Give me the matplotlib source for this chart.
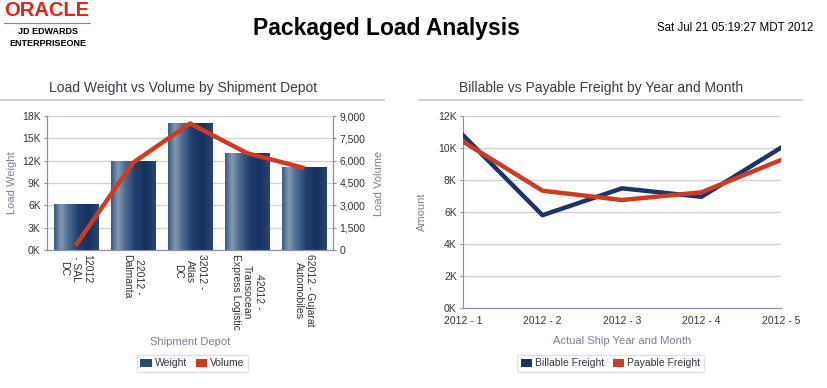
import numpy as np
import matplotlib
matplotlib.use("Agg")
import matplotlib.pyplot as plt
from matplotlib.colors import LinearSegmentedColormap
from matplotlib.patches import Patch
from matplotlib.lines import Line2D

plt.rcParams['font.family'] = ['Liberation Sans', 'DejaVu Sans']

# data
depots = ["12012\n- SAL\nDC", "22012 -\nDalmanta", "32012 -\nAtlas\nDC",
          "42012 -\nTransocean\nExpress Logistic", "62012 - Gujarat\nAutomobiles"]
weight = [6100, 11850, 17050, 13000, 11050]
volume = [300, 5850, 8500, 6500, 5500]

months = ["2012 - 1", "2012 - 2", "2012 - 3", "2012 - 4", "2012 - 5"]
billable = [10800, 5800, 7480, 6950, 10020]
payable = [10400, 7330, 6750, 7230, 9250]

W, H = 827, 388
fig = plt.figure(figsize=(W / 100, H / 100), dpi=100)

def px_axes(x0, y0, x1, y1):
    return fig.add_axes([x0 / W, 1 - y1 / H, (x1 - x0) / W, (y1 - y0) / H])

navy = "#1d3466"
red = "#cf3a22"
spine_c = "#8c8cae"
grid_c = "#cfcfe0"
lab_c = "#7d7d9c"
tick_c = "#333333"

# header
fig.text(4 / W, 1 - 11 / H, "ORACLE", color="#e2231a", fontsize=14.5, fontweight="bold",
         va="center", ha="left")
fig.add_artist(Line2D([4 / W, 90 / W], [1 - 23 / H, 1 - 23 / H], color="#888888", lw=0.8))
fig.text(48 / W, 1 - 32 / H, "JD EDWARDS", fontsize=6.5, fontweight="bold", ha="center", va="center")
fig.text(48 / W, 1 - 43 / H, "ENTERPRISEONE", fontsize=6.5, fontweight="bold", ha="center", va="center")
fig.text(386 / W, 1 - 28 / H, "Packaged Load Analysis", fontsize=16.5, fontweight="bold",
         ha="center", va="center")
fig.text(813 / W, 1 - 28 / H, "Sat Jul 21 05:19:27 MDT 2012", fontsize=8.3, ha="right", va="center")

fig.text(183 / W, 1 - 88 / H, "Load Weight vs Volume by Shipment Depot", fontsize=10,
         color="#3a3a4a", ha="center", va="center")
fig.text(601 / W, 1 - 88 / H, "Billable vs Payable Freight by Year and Month", fontsize=10,
         color="#3a3a4a", ha="center", va="center")
fig.add_artist(Line2D([0, 384 / W], [1 - 99.5 / H] * 2, color="#c8c8c8", lw=1.2))
fig.add_artist(Line2D([419 / W, 802 / W], [1 - 99.5 / H] * 2, color="#c8c8c8", lw=1.2))

# left chart
ax = px_axes(47, 116, 333, 250)
x = np.arange(len(depots))
bars = ax.bar(x, weight, width=0.77, color="none", zorder=2)
cmap = LinearSegmentedColormap.from_list("barg", [
    (0.0, "#3b5b82"), (0.15, "#8399b0"), (0.32, "#4d6b8f"),
    (0.55, "#1e3d6d"), (0.78, "#16315f"), (1.0, "#26466f")])
grad = np.linspace(0, 1, 64).reshape(1, -1)
for b in bars:
    ax.imshow(grad, cmap=cmap, aspect="auto", zorder=2,
              extent=[b.get_x(), b.get_x() + b.get_width(), 0, b.get_height()])
ax.set_xlim(-0.5, len(depots) - 0.5)
ax.set_ylim(0, 18000)
ax.set_yticks(np.arange(0, 18001, 3000))
ax.set_yticklabels([f"{v // 1000}K" for v in range(0, 18001, 3000)])
ax.yaxis.grid(True, color=grid_c, lw=0.9, zorder=0)
ax.set_axisbelow(True)
ax.set_xticks(x)
ax.set_xticklabels(depots, rotation=-90, fontsize=7.5, color=tick_c, ha="center", va="top")
ax.tick_params(axis="x", length=0, pad=3)
ax.tick_params(axis="y", length=2.5, color=spine_c, labelsize=7.5, labelcolor=tick_c, pad=2)
ax.set_ylabel("Load Weight", fontsize=8, color=lab_c, labelpad=4)
ax.set_xlabel("Shipment Depot", fontsize=8, color=lab_c, labelpad=5)
for s in ["left", "bottom", "right"]:
    ax.spines[s].set_color(spine_c)
ax.spines["top"].set_visible(False)

ax2 = ax.twinx()
ax2.plot(x, volume, color=red, lw=3.2, solid_capstyle="butt", zorder=3)
ax2.set_ylim(0, 9000)
ax2.set_yticks(np.arange(0, 9001, 1500))
ax2.set_yticklabels([f"{v:,}" for v in range(0, 9001, 1500)])
ax2.tick_params(axis="y", length=2.5, color=spine_c, labelsize=7.5, labelcolor=tick_c, pad=2)
ax2.set_ylabel("Load Volume", fontsize=8, color=lab_c, labelpad=6)
for s in ["left", "bottom", "right"]:
    ax2.spines[s].set_color(spine_c)
ax2.spines["top"].set_visible(False)

leg = fig.legend(handles=[Patch(facecolor="#2a4a74", label="Weight"),
                          Patch(facecolor=red, label="Volume")],
                 loc="center", bbox_to_anchor=(192.5 / W, 1 - 363.5 / H), ncol=2,
                 fontsize=7.5, frameon=True, fancybox=False, handlelength=1.1,
                 handleheight=0.9, handletextpad=0.3, columnspacing=0.8,
                 borderpad=0.35, labelcolor="#333344")
leg.get_frame().set_edgecolor("#d8d8e6")
leg.get_frame().set_linewidth(1)

# right chart
bx = px_axes(463, 116, 781, 308)
xm = np.arange(len(months))
bx.plot(xm, billable, color=navy, lw=3.2, zorder=3)
bx.plot(xm, payable, color=red, lw=3.2, zorder=3)
bx.set_xlim(0, len(months) - 1)
bx.set_ylim(0, 12000)
bx.set_yticks(np.arange(0, 12001, 2000))
bx.set_yticklabels([f"{v // 1000}K" for v in range(0, 12001, 2000)])
bx.yaxis.grid(True, color=grid_c, lw=0.9, zorder=0)
bx.set_xticks(xm)
bx.set_xticklabels(months)
bx.tick_params(axis="x", length=0, labelsize=7.5, labelcolor=tick_c, pad=6)
bx.tick_params(axis="y", length=2.5, color=spine_c, labelsize=7.5, labelcolor=tick_c, pad=2)
bx.set_ylabel("Amount", fontsize=8, color=lab_c, labelpad=8)
bx.set_xlabel("Actual Ship Year and Month", fontsize=8, color=lab_c, labelpad=7)
for s in ["left", "bottom"]:
    bx.spines[s].set_color(spine_c)
bx.spines["top"].set_visible(False)
bx.spines["right"].set_visible(False)

leg2 = fig.legend(handles=[Patch(facecolor=navy, label="Billable Freight"),
                           Patch(facecolor=red, label="Payable Freight")],
                  loc="center", bbox_to_anchor=(610.5 / W, 1 - 363.5 / H), ncol=2,
                  fontsize=7.5, frameon=True, fancybox=False, handlelength=1.1,
                  handleheight=0.9, handletextpad=0.3, columnspacing=0.8,
                  borderpad=0.35, labelcolor="#333344")
leg2.get_frame().set_edgecolor("#d8d8e6")
leg2.get_frame().set_linewidth(1)

fig.savefig("out.png", dpi=100)
